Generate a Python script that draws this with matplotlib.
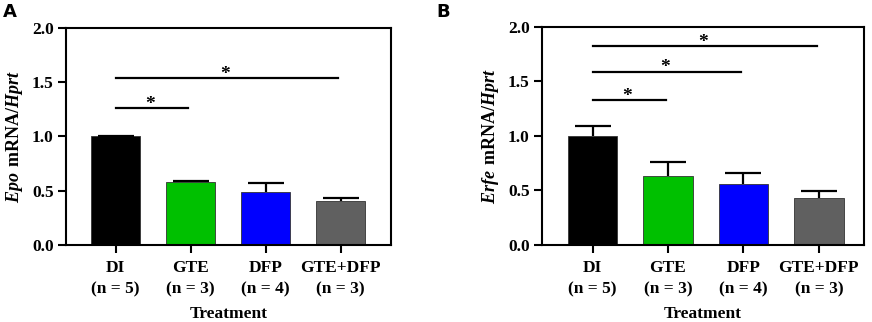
import numpy as np
import matplotlib
matplotlib.use("Agg")
import matplotlib.pyplot as plt

plt.rcParams['font.family'] = 'Liberation Serif'
plt.rcParams['font.weight'] = 'bold'
plt.rcParams['mathtext.fontset'] = 'custom'
plt.rcParams['mathtext.bfit'] = 'Liberation Serif:italic:bold'
plt.rcParams['mathtext.bf'] = 'Liberation Serif:bold'
plt.rcParams['mathtext.rm'] = 'Liberation Serif:bold'

groups = ['DI', 'GTE', 'DFP', 'GTE+DFP']
n_per_group = [5, 3, 4, 3]
colors = ['#000000', '#00C000', '#0000FF', '#606060']

epo_mean = [1.0, 0.58, 0.49, 0.405]
epo_err = [0.005, 0.012, 0.077, 0.028]
epo_sig = [(0, 1, 1.26), (0, 3, 1.535)]

erfe_mean = [1.0, 0.635, 0.56, 0.43]
erfe_err = [0.09, 0.125, 0.10, 0.062]
erfe_sig = [(0, 1, 1.328), (0, 2, 1.588), (0, 3, 1.822)]

fig = plt.figure(figsize=(8.72, 3.22), dpi=100)
axA = fig.add_axes([0.0757, 0.2391, 0.3727, 0.674])
axB = fig.add_axes([0.6216, 0.2391, 0.3693, 0.678])


def draw(ax, means, errs, sigs, gene, xlim):
    x = np.arange(len(groups))
    means = np.array(means)
    errs = np.array(errs)
    ax.bar(x, means, width=0.655, color=colors, edgecolor='#333333', linewidth=0.6, zorder=2)
    # upper-only error bars
    ax.vlines(x, means, means + errs, color='black', lw=1.6, zorder=1)
    ax.plot(x, means + errs, ls='none', marker='_', markersize=26,
            markeredgewidth=1.6, color='black', zorder=3)
    for i, j, h in sigs:
        ax.plot([i, j - 0.03], [h, h], color='black', lw=1.6)
        ax.text((i + j) / 2 - 0.04, h - 0.005, '*', ha='center', va='baseline',
                fontsize=14, fontweight='bold')
    ax.set_xlim(*xlim)
    ax.set_ylim(0, 2.0)
    ax.set_yticks([0, 0.5, 1.0, 1.5, 2.0])
    ax.set_yticklabels(['0.0', '0.5', '1.0', '1.5', '2.0'])
    ax.set_xticks(x)
    ax.set_xticklabels([f'{g}\n(n = {n})' for g, n in zip(groups, n_per_group)],
                       linespacing=1.45)
    ax.tick_params(axis='both', labelsize=12.5, width=1.5, length=6, direction='out')
    ax.tick_params(axis='x', pad=5)
    ax.tick_params(axis='y', pad=3)
    for s in ax.spines.values():
        s.set_linewidth(1.5)
    ax.set_xlabel('Treatment', fontsize=12.5, fontweight='bold', labelpad=6)
    ax.set_ylabel(r'$\mathbfit{' + gene + r'}\ \mathbf{mRNA/}\mathbfit{Hprt}$',
                  fontsize=13, labelpad=5)


draw(axA, epo_mean, epo_err, epo_sig, 'Epo', (-0.66, 3.67))
draw(axB, erfe_mean, erfe_err, erfe_sig, 'Erfe', (-0.67, 3.6))

fig.text(0.003, 0.99, 'A', fontsize=13, fontweight='bold', family='DejaVu Sans', va='top')
fig.text(0.501, 0.99, 'B', fontsize=13, fontweight='bold', family='DejaVu Sans', va='top')

fig.savefig('out.png', dpi=100)
